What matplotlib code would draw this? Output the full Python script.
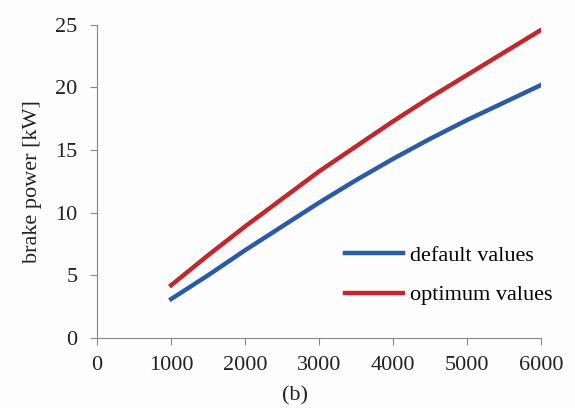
import matplotlib.pyplot as plt

speed = [1000, 1500, 2000, 2500, 3000, 3500, 4000, 4500, 5000, 5500, 6000]
default_values = [3.1, 5.0, 7.0, 8.9, 10.8, 12.6, 14.3, 15.9, 17.4, 18.8, 20.2]
optimum_values = [4.2, 6.6, 8.9, 11.1, 13.3, 15.3, 17.3, 19.2, 21.0, 22.8, 24.6]

plt.rcParams["font.family"] = ["Liberation Serif", "DejaVu Serif"]

fig = plt.figure(figsize=(5.75, 4.08), dpi=100, facecolor="#fdfdfd")
ax = fig.add_axes([0.169, 0.172, 0.772, 0.767], facecolor="#fdfdfd")

ax.plot(speed, default_values, color="#2a5ba6", lw=3.2, label="default values")
ax.plot(speed, optimum_values, color="#c1272d", lw=3.2, label="optimum values")

ax.set_xlim(0, 6000)
ax.set_ylim(0, 25)
ax.set_xticks(range(0, 6001, 1000))
ax.set_yticks(range(0, 26, 5))
ax.tick_params(labelsize=16, colors="#888888", labelcolor="#222222", length=5, direction="out")
ax.tick_params(axis="x", pad=8)
ax.tick_params(axis="y", pad=9)
ax.spines["top"].set_visible(False)
ax.spines["right"].set_visible(False)
for s in ("left", "bottom"):
    ax.spines[s].set_color("#888888")

ax.set_ylabel("brake power [kW]", fontsize=16, color="#222222", labelpad=10)
# panel label sits below the tick labels, a bit left of the 3000 tick
fig.text(295 / 575, 1 - 396 / 408, "(b)", fontsize=16, color="#222222",
         ha="center", va="center")

ax.legend(loc="lower right", frameon=False, fontsize=16, handlelength=2.6,
          handletextpad=0.3, labelspacing=0.85, bbox_to_anchor=(1.07, 0.04))

fig.savefig("out.png", dpi=100, facecolor=fig.get_facecolor())
